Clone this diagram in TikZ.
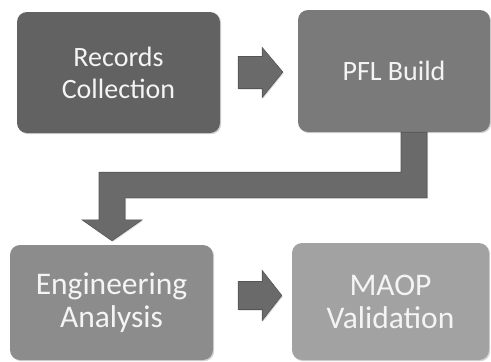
\documentclass[tikz,border=0pt]{standalone}
\usepackage{fontspec}
\setmainfont{Carlito}
\usetikzlibrary{calc,shadows}
\definecolor{cA}{HTML}{626262}
\definecolor{cB}{HTML}{7A7A7A}
\definecolor{cC}{HTML}{8C8C8C}
\definecolor{cD}{HTML}{A2A2A2}
\definecolor{arr}{HTML}{6A6A6A}
\definecolor{txt}{HTML}{F4F4F4}
\tikzset{
  box/.style={rounded corners=10pt, inner sep=0pt, align=center, text=txt,
    drop shadow={opacity=0.35, shadow xshift=1.2pt, shadow yshift=-1.2pt}},
  toptext/.style={font=\fontsize{28}{32}\selectfont},
  bottext/.style={font=\fontsize{31.5}{33}\selectfont},
  blockarrow/.style={fill=arr, draw=arr!80!black, line width=0.6pt, line join=miter,
    drop shadow={opacity=0.3, shadow xshift=1pt, shadow yshift=-1pt}}
}
\begin{document}
\begin{tikzpicture}[x=1pt,y=1pt]
\useasboundingbox (0,0) rectangle (491,-362);
\node[box, toptext, fill=cA, minimum width=203pt, minimum height=121pt] (rc) at (118.5,-72.5) {Records\\Collection};
\node[box, toptext, fill=cB, minimum width=192pt, minimum height=122pt] (pfl) at (394,-71) {PFL Build};
\node[box, bottext, fill=cC, minimum width=203pt, minimum height=115pt] (ea) at (111.5,-302.5) {Engineering\\Analysis};
\node[box, bottext, fill=cD, minimum width=197pt, minimum height=117pt] (mv) at (390.5,-301.5) {MAOP\\Validation};
% right arrow 1
\draw[blockarrow]
  ($(rc.east)+(18,16)$) -- ($(rc.east)+(42,16)$) -- ($(rc.east)+(42,25)$)
  -- ($(pfl.west)+(-15,-1)$) -- ($(rc.east)+(42,-25)$) -- ($(rc.east)+(42,-16)$)
  -- ($(rc.east)+(18,-16)$) -- cycle;
% right arrow 2
\draw[blockarrow]
  ($(ea.east)+(25,21)$) -- ($(ea.east)+(49,21)$) -- ($(ea.east)+(49,32)$)
  -- ($(mv.west)+(-10,6)$) -- ($(ea.east)+(49,-18)$) -- ($(ea.east)+(49,-7)$)
  -- ($(ea.east)+(25,-7)$) -- cycle;
% elbow arrow
\coordinate (top) at ($(pfl.south)+(20,0)$);
\coordinate (tip) at ($(ea.north)+(0.5,4)$);
\draw[blockarrow]
  ($(top)+(-13,0)$) -- ($(top)+(13,0)$) |- ($(tip)+(13,43)$)
  -- ($(tip)+(13,21)$) -- ($(tip)+(30,21)$) -- (tip) -- ($(tip)+(-30,21)$)
  -- ($(tip)+(-13,21)$) |- ($(top)+(-13,-40)$) -- cycle;
\end{tikzpicture}
\end{document}
